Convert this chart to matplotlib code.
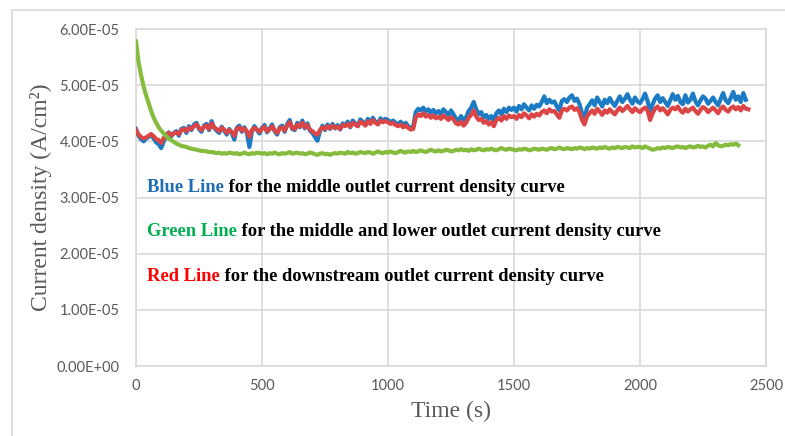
import numpy as np
import matplotlib
matplotlib.use("Agg")
import matplotlib.pyplot as plt
from matplotlib.lines import Line2D
from matplotlib.ticker import FuncFormatter

SCALE = 1e-5
STEP = 10  # seconds between samples

red_vals = [
    4.20, 4.12, 4.08, 4.05, 4.07, 4.10, 4.13, 4.09, 4.04, 4.02,
    3.97, 4.06, 4.12, 4.15, 4.11, 4.14, 4.16, 4.13, 4.20, 4.22,
    4.18, 4.24, 4.22, 4.27, 4.30, 4.24, 4.20, 4.26, 4.28, 4.22,
    4.32, 4.25, 4.22, 4.18, 4.24, 4.21, 4.15, 4.20, 4.17, 4.10,
    4.22, 4.25, 4.19, 4.23, 4.18, 4.08, 4.20, 4.24, 4.21, 4.17,
    4.22, 4.26, 4.18, 4.21, 4.27, 4.20, 4.15, 4.23, 4.25, 4.19,
    4.28, 4.34, 4.24, 4.22, 4.30, 4.26, 4.33, 4.25, 4.29, 4.21,
    4.18, 4.14, 4.12, 4.20, 4.25, 4.22, 4.27, 4.23, 4.28, 4.24,
    4.26, 4.22, 4.29, 4.27, 4.31, 4.26, 4.33, 4.30, 4.27, 4.35,
    4.32, 4.28, 4.36, 4.31, 4.38, 4.33, 4.30, 4.37, 4.34, 4.36,
    4.34, 4.31, 4.33, 4.29, 4.27, 4.30, 4.25, 4.28, 4.24, 4.21,
    4.22, 4.42, 4.48, 4.45, 4.50, 4.44, 4.47, 4.42, 4.46, 4.41,
    4.44, 4.40, 4.46, 4.42, 4.38, 4.43, 4.39, 4.32, 4.30, 4.35,
    4.28, 4.33, 4.42, 4.47, 4.55, 4.44, 4.38, 4.40, 4.33, 4.36,
    4.30, 4.34, 4.27, 4.38, 4.42, 4.37, 4.45, 4.40, 4.46, 4.43,
    4.45, 4.40, 4.47, 4.43, 4.50, 4.46, 4.41, 4.48, 4.44, 4.49,
    4.46, 4.52, 4.55, 4.50, 4.57, 4.53, 4.54, 4.48, 4.42, 4.55,
    4.58, 4.55, 4.60, 4.62, 4.56, 4.59, 4.52, 4.38, 4.30, 4.45,
    4.50, 4.55, 4.49, 4.58, 4.53, 4.47, 4.55, 4.51, 4.57, 4.52,
    4.48, 4.55, 4.60, 4.54, 4.58, 4.63, 4.57, 4.52, 4.59, 4.55,
    4.52, 4.57, 4.60, 4.55, 4.38, 4.50, 4.58, 4.62, 4.55, 4.59,
    4.54, 4.48, 4.56, 4.60, 4.57, 4.62, 4.55, 4.51, 4.58, 4.53,
    4.57, 4.60, 4.54, 4.49, 4.56, 4.61, 4.58, 4.52, 4.56, 4.60,
    4.55, 4.50, 4.58, 4.62, 4.56, 4.53, 4.59, 4.62, 4.57, 4.61,
    4.55, 4.63, 4.58, 4.57,
]

blue_vals = [
    4.22, 4.10, 4.04, 4.00, 4.05, 4.08, 4.12, 4.05, 3.98, 3.95,
    3.88, 4.00, 4.10, 4.16, 4.09, 4.15, 4.18, 4.10, 4.22, 4.24,
    4.15, 4.27, 4.20, 4.30, 4.33, 4.22, 4.17, 4.28, 4.31, 4.20,
    4.36, 4.24, 4.19, 4.15, 4.26, 4.19, 4.12, 4.22, 4.15, 4.03,
    4.24, 4.28, 4.17, 4.25, 4.15, 3.90, 4.18, 4.27, 4.20, 4.14,
    4.24, 4.29, 4.16, 4.23, 4.30, 4.18, 4.12, 4.25, 4.28, 4.17,
    4.31, 4.38, 4.22, 4.20, 4.33, 4.25, 4.37, 4.23, 4.32, 4.19,
    4.15, 4.08, 4.01, 4.18, 4.28, 4.20, 4.30, 4.22, 4.31, 4.23,
    4.29, 4.21, 4.32, 4.28, 4.35, 4.25, 4.37, 4.32, 4.27, 4.39,
    4.35, 4.29, 4.40, 4.33, 4.42, 4.35, 4.31, 4.41, 4.37, 4.40,
    4.38, 4.34, 4.37, 4.33, 4.30, 4.35, 4.29, 4.33, 4.27, 4.24,
    4.26, 4.52, 4.58, 4.55, 4.60, 4.53, 4.57, 4.51, 4.56, 4.50,
    4.54, 4.49, 4.57, 4.52, 4.47, 4.55, 4.48, 4.40, 4.37, 4.45,
    4.36, 4.43, 4.54, 4.60, 4.70, 4.57, 4.48, 4.52, 4.42, 4.47,
    4.40, 4.45, 4.37, 4.50, 4.55, 4.48, 4.58, 4.52, 4.60, 4.56,
    4.60, 4.53, 4.63, 4.57, 4.66, 4.60, 4.55, 4.64, 4.58, 4.65,
    4.62, 4.70, 4.80, 4.68, 4.74, 4.69, 4.71, 4.62, 4.55, 4.72,
    4.75, 4.70, 4.78, 4.82, 4.72, 4.76, 4.66, 4.50, 4.42, 4.60,
    4.66, 4.73, 4.64, 4.78, 4.70, 4.62, 4.74, 4.68, 4.77, 4.69,
    4.63, 4.72, 4.80, 4.70, 4.76, 4.84, 4.74, 4.67, 4.78, 4.71,
    4.68, 4.75, 4.85, 4.72, 4.52, 4.66, 4.76, 4.82, 4.70, 4.77,
    4.70, 4.63, 4.73, 4.84, 4.74, 4.81, 4.70, 4.66, 4.82, 4.69,
    4.74, 4.85, 4.71, 4.64, 4.73, 4.80, 4.76, 4.67, 4.72, 4.78,
    4.70, 4.64, 4.75, 4.86, 4.73, 4.68, 4.77, 4.88, 4.74, 4.80,
    4.70, 4.86, 4.74,
]

green_vals = [
    5.78, 5.42, 5.18, 4.98, 4.82, 4.68, 4.54, 4.42, 4.33, 4.25,
    4.19, 4.14, 4.09, 4.05, 4.02, 3.99, 3.96, 3.94, 3.92, 3.91,
    3.90, 3.88, 3.87, 3.86, 3.85, 3.84, 3.83, 3.83, 3.82, 3.81,
    3.81, 3.80, 3.79, 3.80, 3.78, 3.79, 3.78, 3.80, 3.79, 3.78,
    3.79, 3.77, 3.78, 3.80, 3.78, 3.77, 3.79, 3.78, 3.80, 3.79,
    3.78, 3.79, 3.77, 3.79, 3.78, 3.80, 3.78, 3.77, 3.79, 3.78,
    3.79, 3.81, 3.78, 3.79, 3.80, 3.78, 3.79, 3.77, 3.78, 3.80,
    3.79, 3.77, 3.76, 3.78, 3.79, 3.77, 3.78, 3.76, 3.78, 3.79,
    3.78, 3.80, 3.79, 3.78, 3.81, 3.79, 3.80, 3.78, 3.79, 3.81,
    3.80, 3.79, 3.81, 3.80, 3.78, 3.80, 3.82, 3.80, 3.79, 3.81,
    3.80, 3.82, 3.80, 3.79, 3.81, 3.83, 3.81, 3.80, 3.82, 3.81,
    3.83, 3.81, 3.82, 3.84, 3.82, 3.81, 3.83, 3.85, 3.83, 3.82,
    3.84, 3.82, 3.83, 3.85, 3.84, 3.82, 3.83, 3.85, 3.84, 3.86,
    3.84, 3.85, 3.83, 3.86, 3.84, 3.85, 3.87, 3.85, 3.84, 3.86,
    3.85, 3.87, 3.85, 3.84, 3.86, 3.88, 3.86, 3.85, 3.87, 3.86,
    3.85, 3.84, 3.86, 3.85, 3.87, 3.86, 3.84, 3.85, 3.87, 3.86,
    3.85, 3.87, 3.86, 3.85, 3.87, 3.88, 3.86, 3.87, 3.89, 3.87,
    3.86, 3.88, 3.87, 3.86, 3.88, 3.87, 3.89, 3.88, 3.86, 3.88,
    3.87, 3.89, 3.88, 3.87, 3.89, 3.88, 3.90, 3.88, 3.87, 3.89,
    3.88, 3.90, 3.89, 3.88, 3.90, 3.89, 3.88, 3.91, 3.89, 3.90,
    3.90, 3.88, 3.91, 3.89, 3.87, 3.85, 3.86, 3.88, 3.87, 3.89,
    3.88, 3.90, 3.89, 3.88, 3.90, 3.91, 3.89, 3.90, 3.88, 3.90,
    3.91, 3.89, 3.90, 3.92, 3.90, 3.91, 3.89, 3.92, 3.94, 3.91,
    3.97, 3.93, 3.91, 3.92, 3.94, 3.93, 3.95, 3.94, 3.96, 3.93,
]

x_ticks = [0, 500, 1000, 1500, 2000, 2500]
y_ticks = [0.0, 1e-5, 2e-5, 3e-5, 4e-5, 5e-5, 6e-5]

notes = [
    ("Blue Line", " for the middle outlet current density curve", "#1f6db3", 3.18e-5),
    ("Green Line", " for the middle and lower outlet current density curve", "#00b050", 2.39e-5),
    ("Red Line", " for the downstream outlet current density curve", "#ff0000", 1.59e-5),
]

t_red = np.arange(len(red_vals)) * STEP
t_blue = np.arange(len(blue_vals)) * STEP
t_green = np.arange(len(green_vals)) * STEP

fig = plt.figure(figsize=(7.85, 4.36), dpi=100)
ax = fig.add_axes([136 / 785, 1 - 366 / 436, (766 - 136) / 785, (366 - 29) / 436])

ax.plot(t_blue, np.array(blue_vals) * SCALE, color="#1b7bc4", lw=3.0, zorder=3,
        solid_joinstyle="round")
ax.plot(t_red, np.array(red_vals) * SCALE, color="#dc4545", lw=3.0, zorder=4,
        solid_joinstyle="round")
ax.plot(t_green, np.array(green_vals) * SCALE, color="#86bc3e", lw=3.0, zorder=5,
        solid_joinstyle="round")

ax.set_xlim(0, 2500)
ax.set_ylim(0, 6e-5)
ax.set_xticks(x_ticks)
ax.set_yticks(y_ticks)


def fmt(v, pos):
    if v == 0:
        return "0.00E+00"
    return f"{v / 1e-5:.2f}E-05"


ax.yaxis.set_major_formatter(FuncFormatter(fmt))
grid_c = "#d9d9d9"
ax.grid(True, color=grid_c, lw=1.2)
ax.set_axisbelow(True)
for s in ax.spines.values():
    s.set_color(grid_c)
    s.set_linewidth(1.2)
ax.tick_params(axis="y", length=0, colors="#595959", labelsize=10.5, pad=12)
ax.tick_params(axis="x", length=0, colors="#595959", labelsize=10.5, pad=9)
for lab in ax.get_xticklabels() + ax.get_yticklabels():
    lab.set_fontfamily("Lato")

ax.set_xlabel("Time (s)", family="Liberation Serif", fontsize=17, color="#595959", labelpad=6)
ax.set_ylabel("Current density (A/cm²)", family="Liberation Serif", fontsize=17, color="#595959", labelpad=3)

fig.canvas.draw()
renderer = fig.canvas.get_renderer()
for head, tail, col, yv in notes:
    t1 = ax.text(44, yv, head, family="Liberation Serif", weight="bold", fontsize=13.3,
                 color=col, va="center", ha="left", zorder=6)
    bb = t1.get_window_extent(renderer)
    x1 = ax.transData.inverted().transform((bb.x1, 0))[0]
    ax.text(x1, yv, tail, family="Liberation Serif", weight="bold", fontsize=13.3,
            color="black", va="center", ha="left", zorder=6)

# outer frame
fig.add_artist(Line2D([12 / 785, 12 / 785], [0, 1 - 10 / 436], transform=fig.transFigure, color="#d9d9d9", lw=1.2))
fig.add_artist(Line2D([12 / 785, 1], [1 - 10 / 436, 1 - 10 / 436], transform=fig.transFigure, color="#d9d9d9", lw=1.2))

fig.savefig("out.png", dpi=100)
